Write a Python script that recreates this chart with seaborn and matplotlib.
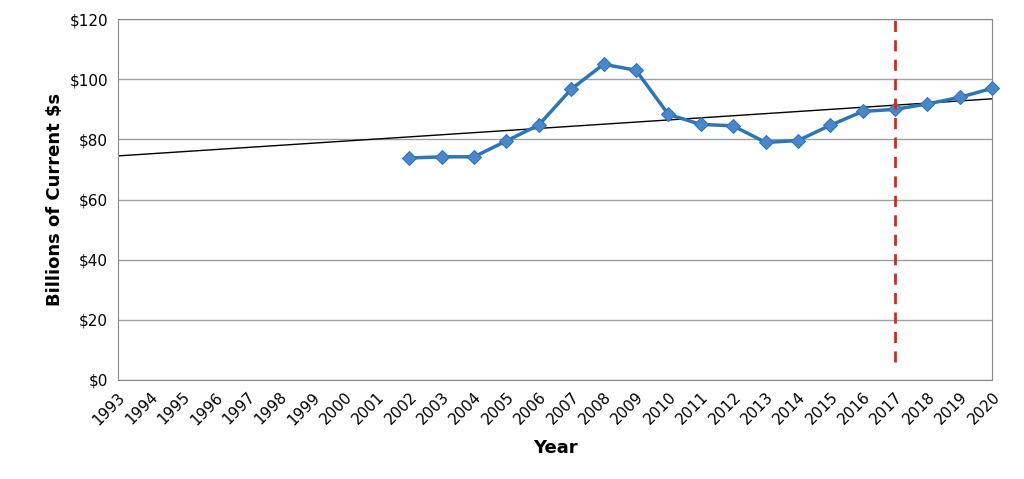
import matplotlib
matplotlib.use("Agg")
import matplotlib.pyplot as plt
import seaborn as sns
import pandas as pd
import numpy as np

years = list(range(2002, 2021))
values = [73.8, 74.2, 74.2, 79.5, 84.8, 96.7, 105.0, 103.0, 88.3, 85.0, 84.5, 79.0,
          79.6, 84.7, 89.3, 90.0, 91.8, 94.0, 97.0]
trend_years = [1993, 2020]
trend_values = [74.5, 93.5]
tick_years = list(range(1993, 2021))
vline_year = 2017

plt.rcParams["font.family"] = "Lato"
sns.set_style("white")
fig, ax = plt.subplots(figsize=(10.24, 4.79), dpi=100)
fig.subplots_adjust(left=0.115, right=0.969, top=0.96, bottom=0.207)

df = pd.DataFrame({"Year": years, "Value": values})
ax.plot(trend_years, trend_values, color="black", lw=1, zorder=2)
sns.lineplot(data=df, x="Year", y="Value", ax=ax, color="#2E75B6", lw=2.5,
             marker="D", markersize=7, markerfacecolor="#4A86C8",
             markeredgecolor="#2E75B6", zorder=3, clip_on=False)
ax.vlines(vline_year, 6, 120, colors="#C0312B", linestyles=(0, (4, 3)), lw=2, zorder=4)

ax.set_xlim(1993, 2020)
ax.set_ylim(0, 120)
ax.set_yticks(range(0, 121, 20))
ax.set_yticklabels([f"${v}" for v in range(0, 121, 20)], fontsize=11, color="black")
ax.set_xticks(tick_years)
ax.set_xticklabels([str(y) for y in tick_years], rotation=45, ha="right",
                   rotation_mode="anchor", fontsize=11, color="black")
ax.grid(axis="y", color="#A0A0A0", lw=1)
for s in ax.spines.values():
    s.set_color("#888888")
ax.set_xlabel("Year", fontsize=13, fontweight="black", color="black", labelpad=8)
ax.set_ylabel("Billions of Current $s", fontsize=13, fontweight="black", color="black")
fig.savefig("out.png", dpi=100)
